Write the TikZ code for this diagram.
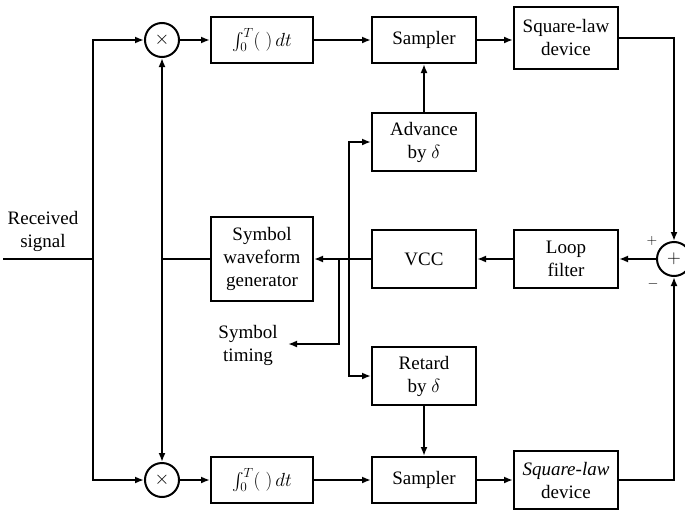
\RequirePackage{fix-cm}
\documentclass[tikz,border=0pt]{standalone}
\usepackage{exscale}
\usepackage{fontspec}
\setmainfont{Liberation Serif}
\usetikzlibrary{arrows.meta}
\begin{document}
\begin{tikzpicture}[x=1pt,y=-1pt,
  every node/.style={font=\fontsize{19}{23}\selectfont},
  blk/.style={draw,line width=2pt,align=center,inner sep=0pt},
  mult/.style={circle,draw,line width=2pt,minimum size=34pt,inner sep=0pt},
  ln/.style={line width=2pt},
  arr/.style={line width=2pt,-{Latex[length=9pt,width=7pt]}},
  lbl/.style={align=center,inner sep=0pt}]
\useasboundingbox (0,0) rectangle (685,514);

% nodes
\node[mult] (m1) at (162,40) {$\times$};
\node[mult] (m2) at (162,480) {$\times$};
\node[blk,minimum width=102pt,minimum height=46pt] (int1) at (262,40) {$\int_0^T(\;)\,dt$};
\node[blk,minimum width=102pt,minimum height=46pt] (int2) at (262,480) {$\int_0^T(\;)\,dt$};
\node[blk,minimum width=104pt,minimum height=46pt] (samp1) at (424,40) {Sampler};
\node[blk,minimum width=104pt,minimum height=46pt] (samp2) at (424,480) {Sampler};
\node[blk,minimum width=104pt,minimum height=62pt] (sq1) at (566,38) {Square-law\\device};
\node[blk,minimum width=104pt,minimum height=58pt] (sq2) at (566,480) {\textit{Square-law}\\device};
\node[blk,minimum width=104pt,minimum height=58pt] (adv) at (424,142) {Advance\\by $\delta$};
\node[blk,minimum width=104pt,minimum height=58pt] (ret) at (424,376) {Retard\\by $\delta$};
\node[blk,minimum width=104pt,minimum height=58pt] (vcc) at (424,259) {VCC};
\node[blk,minimum width=104pt,minimum height=58pt] (loop) at (566,259) {Loop\\filter};
\node[blk,minimum width=102pt,minimum height=84pt] (sym) at (262,259) {Symbol\\waveform\\generator};
\node[mult] (sum) at (674,259) {$+$};
\node[lbl] (plus) at (652,241) {\fontsize{14}{14}\selectfont$+$};
\node[lbl] (minus) at (653,284) {\fontsize{14}{14}\selectfont$-$};
\node[lbl] (rx) at (43,231) {Received\\signal};
\node[lbl] (timing) at (248,345) {Symbol\\timing};

% coordinates
\coordinate (inp) at (3,259);
\coordinate (j1) at (93,259);
\coordinate (jC) at (162,259);
\coordinate (jA) at (349,259);
\coordinate (jB) at (339,259);
\coordinate (tmg) at (288,344);

% connectors
\draw[ln] (inp) -- (j1);
\draw[arr] (j1) |- (m1.west);
\draw[arr] (j1) |- (m2.west);
\draw[arr] (m1) -- (int1);
\draw[arr] (m2) -- (int2);
\draw[arr] (int1) -- (samp1);
\draw[arr] (int2) -- (samp2);
\draw[arr] (samp1) -- (samp1 -| sq1.west);
\draw[arr] (samp2) -- (sq2);
\draw[arr] (sq1.east) -| (sum.north);
\draw[arr] (sq2.east) -| (sum.south);
\draw[arr] (adv) -- (samp1);
\draw[arr] (ret) -- (samp2);
\draw[arr] (sum) -- (loop);
\draw[arr] (loop) -- (vcc);
\draw[arr] (vcc) -- (sym);
\draw[arr] (jA) |- (adv.west);
\draw[arr] (jA) |- (ret.west);
\draw[arr] (jB) |- (tmg);
\draw[ln] (sym.west) -- (jC);
\draw[arr] (jC) -- (m1.south);
\draw[arr] (jC) -- (m2.north);
\end{tikzpicture}
\end{document}
